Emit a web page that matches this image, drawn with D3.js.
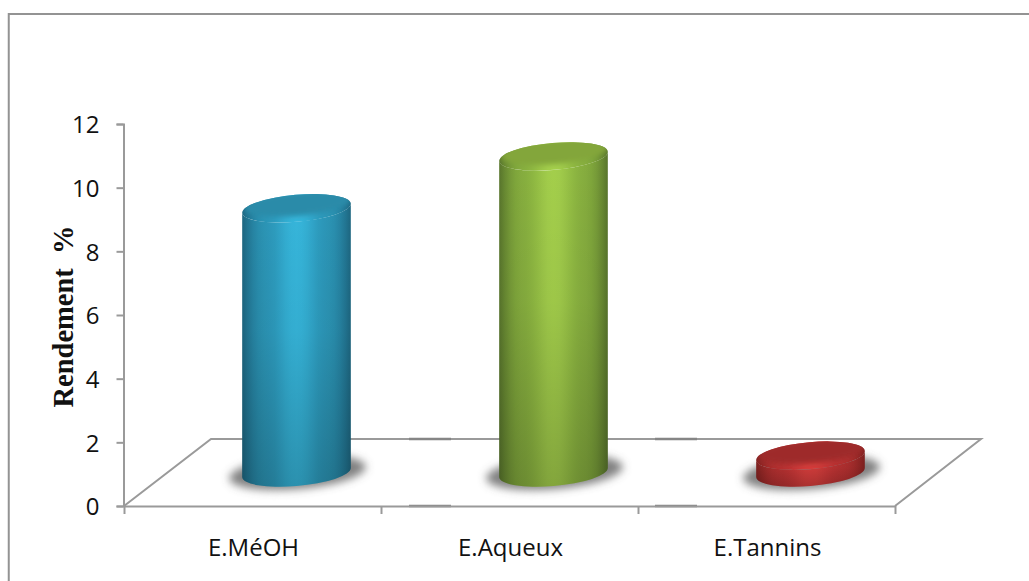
<!DOCTYPE html>
<html>
<head>
<meta charset="utf-8">
<script src="https://cdn.jsdelivr.net/npm/d3@7/dist/d3.min.js"></script>
<style>
html,body{margin:0;padding:0;background:#fff;}
svg{display:block;}
</style>
</head>
<body>
<div id="chart"></div>
<script>
// Extraction yield per extract type
const categories = ["E.MéOH", "E.Aqueux", "E.Tannins"];
const yields = [8.3, 9.93, 0.53];
const yTicks = [0, 2, 4, 6, 8, 10, 12];
const yTitle = "Rendement  %";

// Colour ramps for each cylinder: edge, light, lid, rim
const edgeColors = ["#1d6680", "#58752c", "#7f2120"];
const lightColors = ["#36b6dc", "#a5d04c", "#d63e3c"];
const midColors = ["#2b95b6", "#86ae3e", "#b43030"];
const lidColors = ["#2a8ba9", "#83a63a", "#9e2b29"];

const W = 1029, H = 581;
const plot = {left: 124, right: 895, top: 124, bottom: 506};
const depth = {dx: 87, dy: -67};
const cyl = {rx: 54.5, ry: 13.5, tilt: -5};
const floorSeamOffsets = [28, 17];

const svg = d3.select("#chart").append("svg").attr("width", W).attr("height", H);
const defs = svg.append("defs");

const x = d3.scaleBand().domain(categories).range([plot.left, plot.right]);
const y = d3.scaleLinear().domain([0, 12]).range([plot.bottom, plot.top]);

// Outer frame: only the top and left edges show
svg.append("path").attr("d", `M8.75,${H}V14H${W}`)
  .attr("fill", "none").attr("stroke", "#939393").attr("stroke-width", 2);

// Floor of the 3D scene
const floor = svg.append("g").attr("fill", "none").attr("stroke", "#9a9a9a").attr("stroke-width", 2);
floor.append("path").attr("d",
  `M${plot.left},${plot.bottom}L${plot.left + depth.dx},${plot.bottom + depth.dy}` +
  `H${plot.right + depth.dx - 1}L${plot.right},${plot.bottom}`);
categories.slice(1).forEach((c, i) => {
  const bx = x(c) + floorSeamOffsets[i];
  [plot.bottom, plot.bottom + depth.dy].forEach(py => {
    floor.append("line").attr("x1", bx).attr("x2", bx + 42).attr("y1", py).attr("y2", py)
      .attr("stroke", "#858585").attr("stroke-width", 2.6);
  });
});

// Axes
const axisY = d3.axisLeft(y).tickValues(yTicks).tickSize(7).tickPadding(17);
const axisX = d3.axisBottom(x).tickSize(0).tickPadding(33);
const gy = svg.append("g").attr("transform", `translate(${plot.left - 0.5},0)`).call(axisY);
const gx = svg.append("g").attr("transform", `translate(0,${plot.bottom})`).call(axisX);
gx.selectAll(".tick text").attr("dx", 1);
gy.selectAll(".tick text").attr("dy", "0.37em");
const boundaries = categories.map(c => x(c)).concat(plot.right);
gx.selectAll("line.sep").data(boundaries).join("line").attr("class", "sep")
  .attr("x1", d => d + 0.5).attr("x2", d => d + 0.5).attr("y1", 0).attr("y2", 8);
[gx, gy].forEach(g => {
  g.selectAll("path.domain,line").attr("stroke", "#9a9a9a").attr("stroke-width", 2);
  g.selectAll("text").attr("fill", "#111").attr("font-family", "'Open Sans','Noto Sans',sans-serif");
});
gy.selectAll("text").attr("font-size", 24);
gx.selectAll("text").attr("font-size", 24);

svg.append("text")
  .attr("transform", "translate(73,316.5) rotate(-90)")
  .attr("text-anchor", "middle")
  .attr("font-family", "'Liberation Serif',serif")
  .attr("font-weight", "bold").attr("font-size", 28.5).attr("fill", "#111")
  .attr("xml:space", "preserve").style("white-space", "pre").text(yTitle);

// Shared filters
const blur = (id, s) => defs.append("filter").attr("id", id)
  .attr("x", "-30%").attr("y", "-60%").attr("width", "160%").attr("height", "220%")
  .append("feGaussianBlur").attr("stdDeviation", s);
blur("shadowBlur", 4);
blur("lidBlur", 2.4);

const fade = defs.append("linearGradient").attr("id", "bodyFade").attr("x1", 0).attr("x2", 0).attr("y1", 0).attr("y2", 1);
fade.append("stop").attr("offset", 0).attr("stop-color", "#000").attr("stop-opacity", 0);
fade.append("stop").attr("offset", 0.45).attr("stop-color", "#000").attr("stop-opacity", 0.04);
fade.append("stop").attr("offset", 1).attr("stop-color", "#000").attr("stop-opacity", 0.2);

// Half-extents of the tilted ellipse and the points where the sides touch it
const t = cyl.tilt * Math.PI / 180;
const hx = Math.sqrt((cyl.rx * Math.cos(t)) ** 2 + (cyl.ry * Math.sin(t)) ** 2);
const sideDy = (cyl.rx ** 2 - cyl.ry ** 2) * Math.sin(t) * Math.cos(t) / hx;

const marks = svg.append("g");
categories.forEach((cat, i) => {
  const cx = x(cat) + x.bandwidth() / 2 + depth.dx / 2 + 0.5;
  const lift = y.invert(plot.bottom + depth.dy / 2);   // cylinders stand mid-depth on the floor
  const baseY = y(lift);
  const topY = y(yields[i] + lift);
  const g = marks.append("g");

  // Smooth round-surface shading sampled along the width
  const shade = d3.interpolateRgbBasis([edgeColors[i], midColors[i], midColors[i], lightColors[i], lightColors[i], midColors[i], midColors[i], edgeColors[i]]);
  const side = defs.append("linearGradient").attr("id", `side${i}`)
    .attr("gradientUnits", "userSpaceOnUse")
    .attr("x1", cx - hx).attr("x2", cx + hx).attr("y1", 0).attr("y2", 0);
  d3.range(0, 1.001, 0.05).forEach(o => side.append("stop").attr("offset", o).attr("stop-color", shade(o)));

  const lidRim = defs.append("clipPath").attr("id", `lidClip${i}`);
  lidRim.append("ellipse").attr("rx", cyl.rx).attr("ry", cyl.ry)
    .attr("transform", `translate(${cx},${topY}) rotate(${cyl.tilt})`);

  // Ground shadow
  g.append("ellipse").attr("rx", cyl.rx + 14).attr("ry", cyl.ry + 3)
    .attr("transform", `translate(${cx + 1},${baseY}) rotate(${cyl.tilt})`)
    .attr("fill", "#555").attr("fill-opacity", 0.75).attr("filter", "url(#shadowBlur)");

  // Cylinder wall
  const wall = `M${cx - hx},${topY - sideDy}L${cx - hx},${baseY - sideDy}` +
    `A${cyl.rx},${cyl.ry} ${cyl.tilt} 0 0 ${cx + hx},${baseY + sideDy}` +
    `L${cx + hx},${topY + sideDy}` +
    `A${cyl.rx},${cyl.ry} ${cyl.tilt} 0 1 ${cx - hx},${topY - sideDy}Z`;
  g.append("path").attr("d", wall).attr("fill", `url(#side${i})`);
  g.append("path").attr("d", wall).attr("fill", "url(#bodyFade)");

  // Lid: bevelled rim with a darker inset
  const lid = g.append("g").attr("clip-path", `url(#lidClip${i})`);
  lid.append("rect").attr("x", cx - hx - 2).attr("y", topY - 20).attr("width", 2 * hx + 4).attr("height", 40)
    .attr("fill", `url(#side${i})`);
  lid.append("ellipse").attr("rx", cyl.rx - 1).attr("ry", cyl.ry - 1.5)
    .attr("transform", `translate(${cx + 1},${topY - 4.5}) rotate(${cyl.tilt})`)
    .attr("fill", lidColors[i]).attr("filter", "url(#lidBlur)");
});
</script>
</body>
</html>
